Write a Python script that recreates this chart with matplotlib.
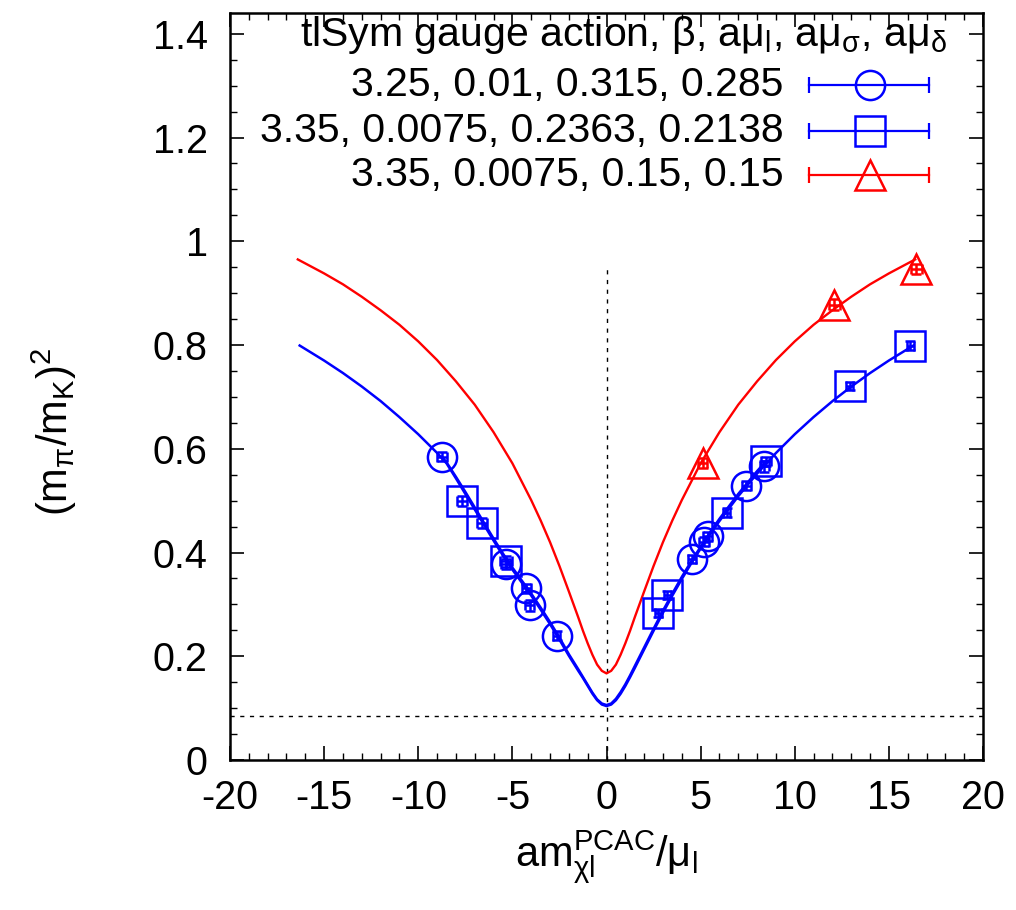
import matplotlib
matplotlib.use('Agg')
import matplotlib.pyplot as plt
from matplotlib.ticker import MultipleLocator

plt.rcParams['font.family'] = ['Liberation Sans', 'DejaVu Sans']
plt.rcParams['mathtext.fontset'] = 'custom'
plt.rcParams['mathtext.rm'] = 'Liberation Sans'
plt.rcParams['mathtext.it'] = 'Liberation Sans'
plt.rcParams['mathtext.bf'] = 'Liberation Sans:bold'
plt.rcParams['axes.unicode_minus'] = False

# ensembles: beta, a mu_l, a mu_sigma, a mu_delta
labels = ['3.25, 0.01, 0.315, 0.285',
          '3.35, 0.0075, 0.2363, 0.2138',
          '3.35, 0.0075, 0.15, 0.15']

# b3.25 (circles)
circ_x = [-8.74, -5.34, -4.25, -4.09, -2.65, 4.54, 5.19, 5.37, 7.43, 8.39]
circ_y = [0.585, 0.378, 0.331, 0.298, 0.240, 0.387, 0.421, 0.431, 0.529, 0.566]
circ_dx = [0.25, 0.25, 0.25, 0.25, 0.2, 0.2, 0.25, 0.25, 0.25, 0.25]
circ_dy = [0.009, 0.010, 0.009, 0.010, 0.008, 0.008, 0.009, 0.009, 0.009, 0.010]

# b3.35, mu_sigma=0.2363 (squares)
sq_x = [-7.68, -6.61, -5.34, 2.76, 3.24, 6.38, 8.48, 12.91, 16.14]
sq_y = [0.499, 0.457, 0.383, 0.283, 0.318, 0.477, 0.576, 0.721, 0.799]
sq_dx = [0.25, 0.25, 0.3, 0.2, 0.2, 0.2, 0.25, 0.2, 0.2]
sq_dy = [0.010, 0.009, 0.010, 0.008, 0.008, 0.008, 0.009, 0.008, 0.008]

# b3.35, mu_sigma=0.15 (triangles)
tri_x = [5.10, 12.11, 16.46]
tri_y = [0.573, 0.878, 0.947]
tri_dx = [0.25, 0.3, 0.3]
tri_dy = [0.010, 0.010, 0.010]

# fit curves
fit_sq_x = [-16.3, -15, -14, -13, -12, -11, -10, -9, -8.5, -8, -7.5, -7, -6.5,
            -6, -5.5, -5, -4.5, -4, -3.5, -3, -2.5, -2, -1.5, -1.25, -1, -0.75,
            -0.5, -0.25, 0, 0.25, 0.5, 0.75, 1, 1.25, 1.5, 2, 2.5, 3, 3.5, 4,
            4.5, 5, 5.5, 6, 7, 8, 9, 10, 11, 12, 13, 14, 15, 16.3]
fit_sq_y = [0.799, 0.770, 0.746, 0.720, 0.692, 0.661, 0.628, 0.592, 0.572, 0.543,
            0.513, 0.483, 0.453, 0.423, 0.394, 0.367, 0.342, 0.317, 0.290, 0.262,
            0.232, 0.201, 0.172, 0.158, 0.143, 0.128, 0.1153, 0.107, 0.104, 0.107,
            0.1153, 0.1277, 0.1427, 0.1595, 0.1771, 0.2132, 0.2491, 0.2838, 0.3171,
            0.3488, 0.379, 0.4076, 0.435, 0.4607, 0.5086, 0.5522, 0.5918, 0.628,
            0.6611, 0.6917, 0.7198, 0.7459, 0.7701, 0.799]

fit_circ_x = [-8.74, -8.5, -8, -7.5, -7, -6.5, -6, -5.5, -5, -4.5, -4, -3.5, -3,
              -2.5, -2, -1.5, -1.25, -1, -0.75, -0.5, -0.25, 0, 0.25, 0.5, 0.75,
              1, 1.25, 1.5, 2, 2.5, 3, 3.5, 4, 4.5, 5, 5.5, 6, 7, 8, 8.4]
fit_circ_y = [0.585, 0.574, 0.546, 0.517, 0.487, 0.457, 0.427, 0.398, 0.371, 0.346,
              0.321, 0.294, 0.266, 0.236, 0.204, 0.175, 0.160, 0.145, 0.130, 0.117,
              0.109, 0.106, 0.109, 0.118, 0.131, 0.146, 0.163, 0.181, 0.217, 0.253,
              0.288, 0.321, 0.353, 0.383, 0.411, 0.439, 0.465, 0.513, 0.557, 0.573]

fit_tri_x = [-16.4, -15, -14, -13, -12, -11, -10, -9, -8, -7, -6, -5, -4, -3.5,
             -3, -2.5, -2, -1.5, -1.25, -1, -0.75, -0.5, -0.25, 0, 0.25, 0.5, 0.75,
             1, 1.25, 1.5, 2, 2.5, 3, 3.5, 4, 5, 6, 7, 8, 9, 10, 11, 12, 13, 14,
             15, 16.4]
fit_tri_y = [0.965, 0.938, 0.917, 0.893, 0.867, 0.839, 0.807, 0.771, 0.730, 0.685,
             0.632, 0.572, 0.501, 0.462, 0.420, 0.374, 0.325, 0.275, 0.249, 0.225,
             0.203, 0.184, 0.172, 0.167, 0.172, 0.184, 0.203, 0.225, 0.249, 0.275,
             0.325, 0.374, 0.420, 0.462, 0.501, 0.572, 0.632, 0.685, 0.730, 0.771,
             0.807, 0.839, 0.867, 0.893, 0.917, 0.938, 0.965]

phys_ratio = 0.0855
vline_top = 0.955

blue = '#0000ff'
red = '#ff0000'

fig = plt.figure(figsize=(10.16, 9.10), dpi=100)
ax = fig.add_axes([0.2264, 0.1648, 0.7411, 0.8209])

ax.axhline(phys_ratio, color='black', lw=1.0, ls=(0, (3, 4)))
ax.plot([0, 0], [0, vline_top], color='black', lw=1.0, ls=(0, (3, 4)))

ax.plot(fit_sq_x, fit_sq_y, color=blue, lw=1.8)
ax.plot(fit_circ_x, fit_circ_y, color=blue, lw=1.8)
ax.plot(fit_tri_x, fit_tri_y, color=red, lw=1.7)

ebkw = dict(ls='none', mfc='none', ms=21, mew=1.8, elinewidth=1.8, capsize=3.5, capthick=1.8)
ax.errorbar(circ_x, circ_y, xerr=circ_dx, yerr=circ_dy, marker='o', color=blue, **ebkw)
ax.errorbar(sq_x, sq_y, xerr=sq_dx, yerr=sq_dy, marker='s', color=blue, **ebkw)
ax.errorbar(tri_x, tri_y, xerr=tri_dx, yerr=tri_dy, marker='^', color=red, **ebkw)

ax.set_xlim(-20, 20)
ax.set_ylim(0, 1.44)
ax.xaxis.set_major_locator(MultipleLocator(5))
ax.xaxis.set_minor_locator(MultipleLocator(1))
ax.yaxis.set_minor_locator(MultipleLocator(0.05))
ax.set_yticks([0, 0.2, 0.4, 0.6, 0.8, 1.0, 1.2, 1.4])
ax.set_yticklabels(['0', '0.2', '0.4', '0.6', '0.8', '1', '1.2', '1.4'])
ax.tick_params(which='both', direction='in', top=True, right=True, labelsize=28.5)
ax.tick_params(axis='x', which='major', length=10, width=1.2, pad=14)
ax.tick_params(axis='y', which='major', length=10, width=1.2, pad=16)
ax.tick_params(which='minor', length=5, width=1.0)
for s in ax.spines.values():
    s.set_linewidth(1.8)

ax.set_xlabel(r'am$_\mathrm{\chi l}^\mathrm{PCAC}$/μ$_\mathrm{l}$', fontsize=30, labelpad=8)
ax.set_ylabel(r'(m$_\mathrm{\pi}$/m$_\mathrm{K}$)$^\mathrm{2}$', fontsize=30)
ax.yaxis.set_label_coords(-0.2, 0.44)

# key
ax.text(0.952, 0.970, r'tlSym gauge action, β, aμ$_\mathrm{l}$, aμ$_\mathrm{\sigma}$, aμ$_\mathrm{\delta}$',
        transform=ax.transAxes, ha='right', va='center', fontsize=29.5)
key_rows = [0.9036, 0.842, 0.783]
key_styles = [('o', blue), ('s', blue), ('^', red)]
for lab, yk, (mk, col) in zip(labels, key_rows, key_styles):
    ax.text(0.735, yk, lab, transform=ax.transAxes, ha='right', va='center', fontsize=29.5)
    ax.plot([0.769, 0.928], [yk, yk], transform=ax.transAxes, color=col, lw=1.6)
    ax.plot([0.769, 0.928], [yk, yk], transform=ax.transAxes, color=col, ls='none',
            marker='|', ms=12, mew=1.6)
    ax.plot([0.850], [yk], transform=ax.transAxes, color=col, ls='none', marker=mk,
            ms=21, mfc='none', mew=1.8)

fig.savefig('out.png', dpi=100)
